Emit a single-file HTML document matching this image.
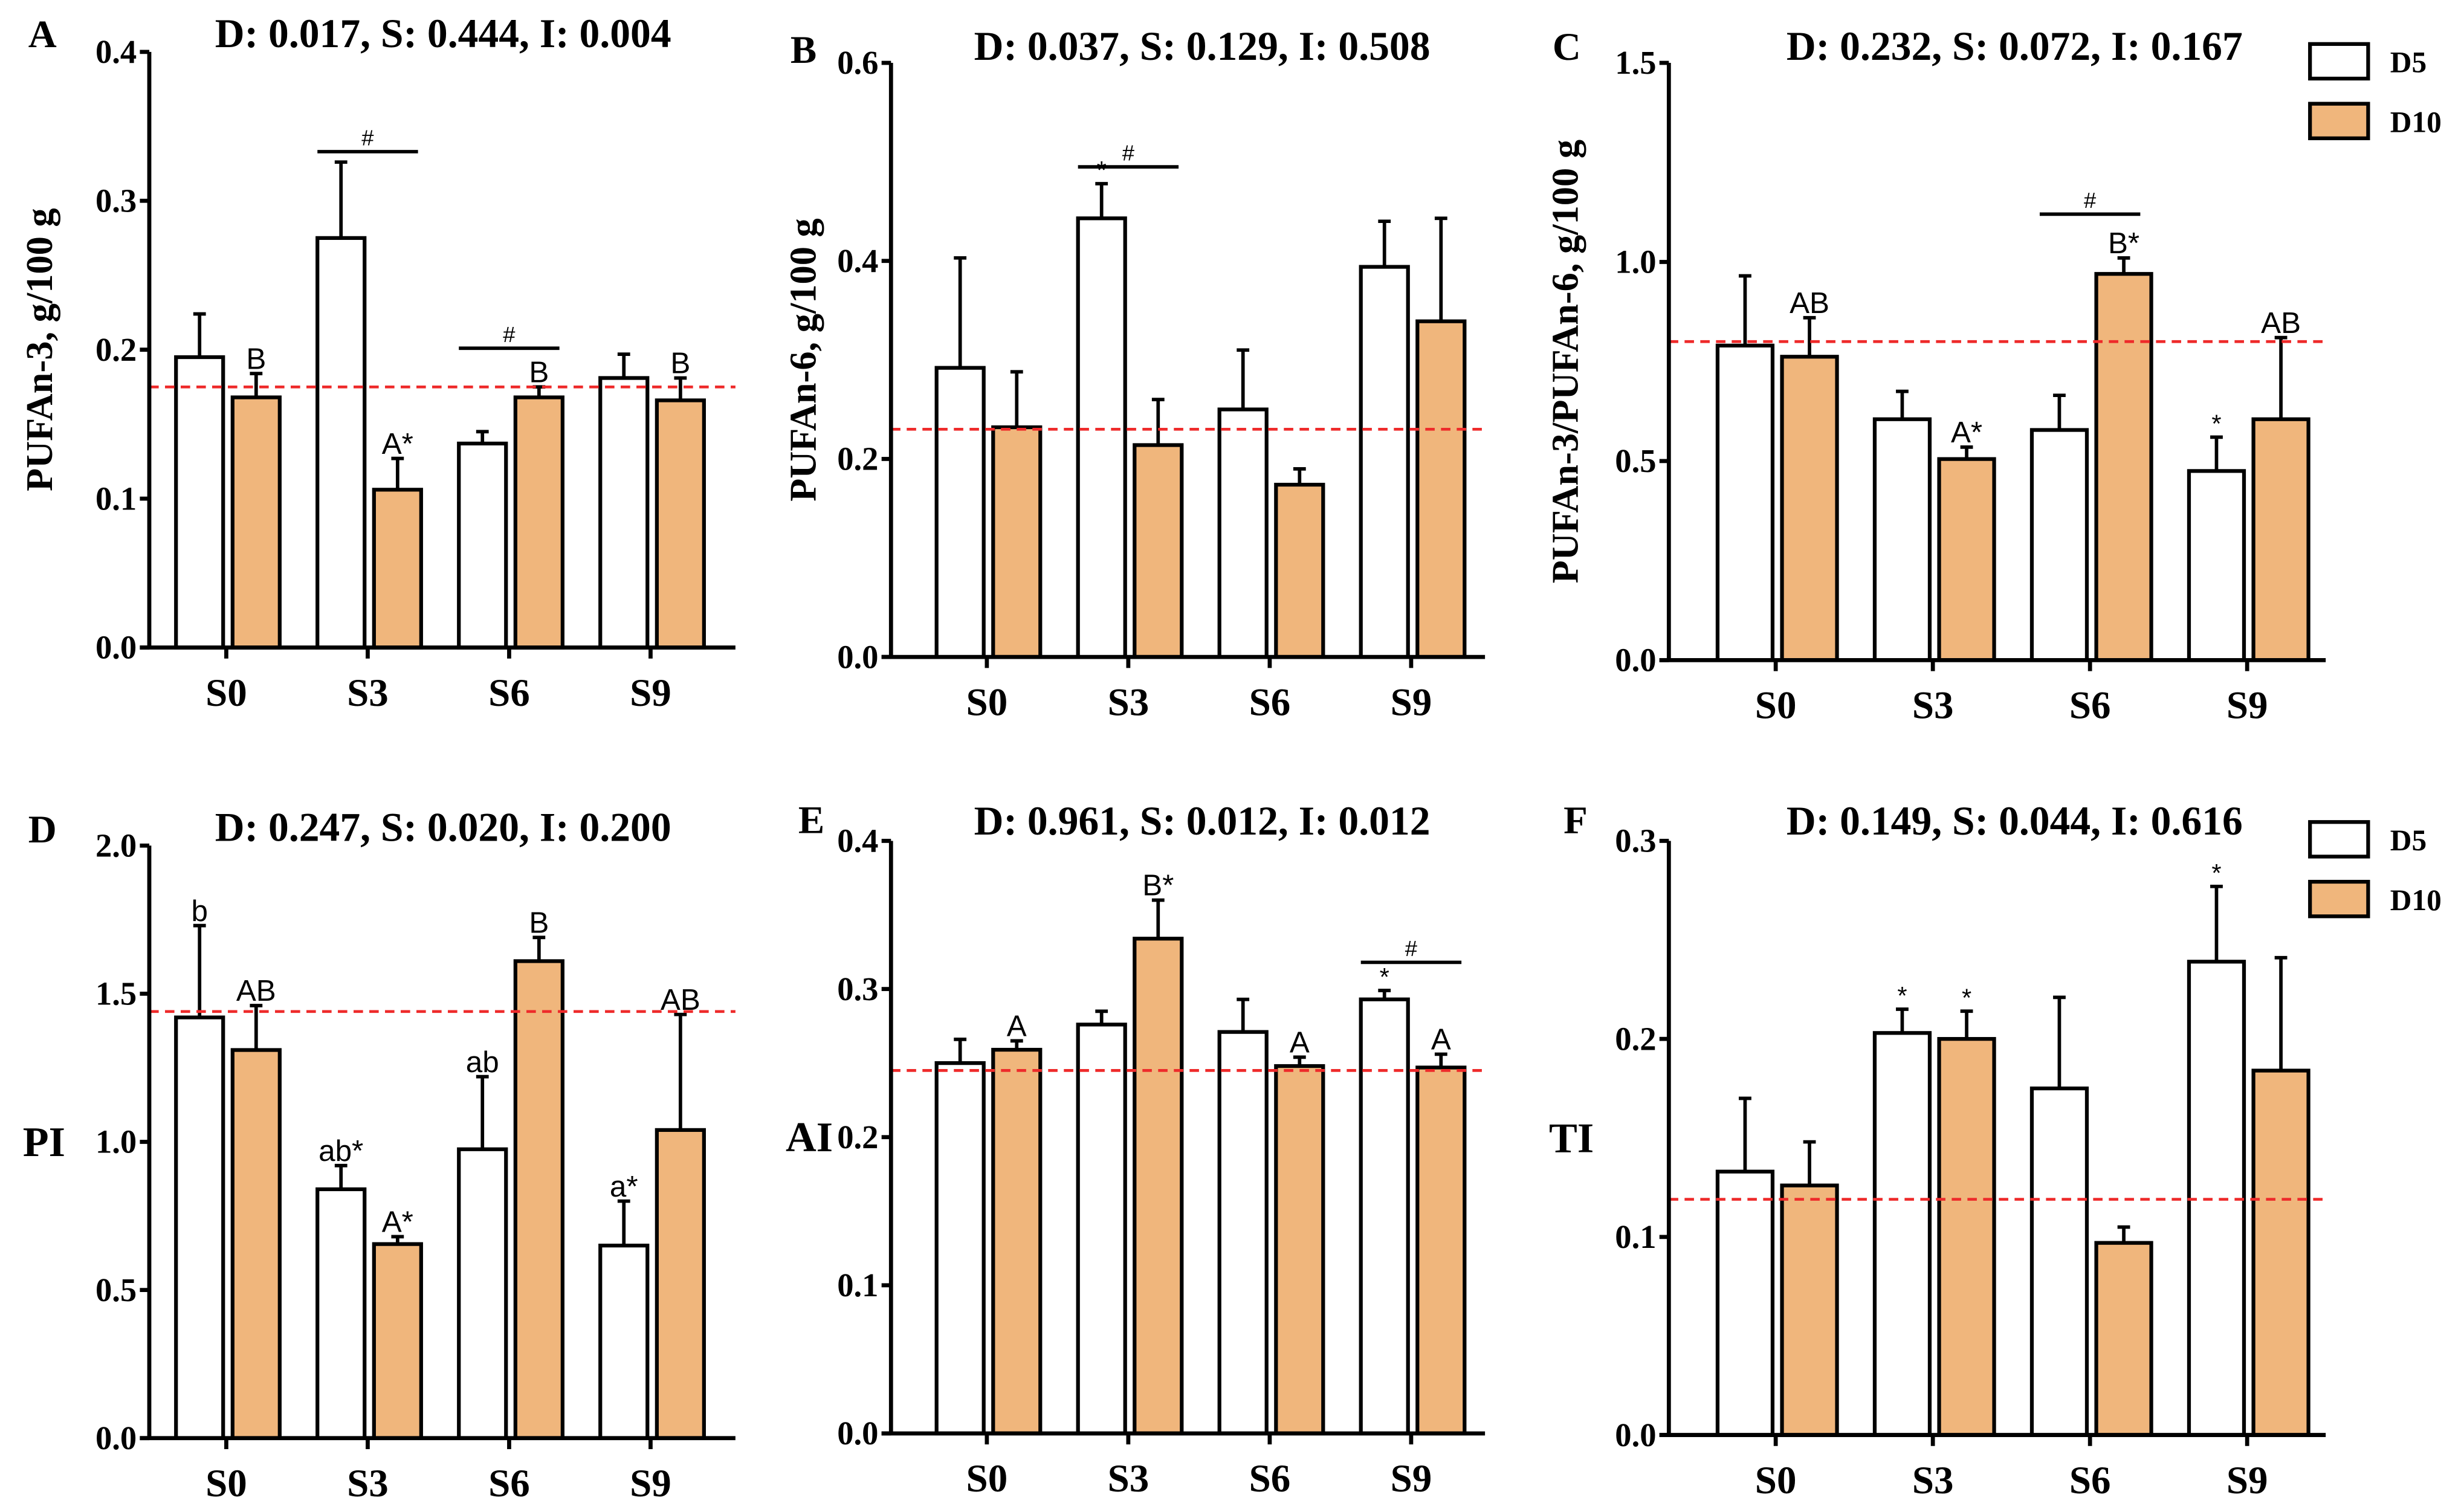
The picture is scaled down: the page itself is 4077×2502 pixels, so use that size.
<!DOCTYPE html>
<html><head><meta charset="utf-8"><style>
html,body{margin:0;padding:0;background:#fff;}
svg{display:block;}
</style></head><body>
<svg id="fig" width="4077" height="2502" viewBox="0 0 1568 962" preserveAspectRatio="none" xmlns="http://www.w3.org/2000/svg" font-family="Liberation Serif, serif"></svg>
<script>
const categories = ["S0","S3","S6","S9"];
const aD5 = [0.195,0.275,0.137,0.181], aD5e = [0.224,0.326,0.145,0.197];
const aD10 = [0.168,0.106,0.168,0.166], aD10e = [0.184,0.127,0.175,0.181];
const bD5 = [0.292,0.443,0.250,0.394], bD5e = [0.403,0.478,0.310,0.440];
const bD10 = [0.232,0.214,0.174,0.339], bD10e = [0.288,0.260,0.190,0.443];
const cD5 = [0.790,0.605,0.578,0.475], cD5e = [0.965,0.675,0.665,0.560];
const cD10 = [0.762,0.505,0.970,0.605], cD10e = [0.860,0.535,1.010,0.810];
const dD5 = [1.42,0.84,0.975,0.65], dD5e = [1.73,0.92,1.22,0.80];
const dD10 = [1.31,0.655,1.61,1.04], dD10e = [1.46,0.68,1.69,1.43];
const eD5 = [0.250,0.276,0.271,0.293], eD5e = [0.266,0.285,0.293,0.299];
const eD10 = [0.259,0.334,0.248,0.247], eD10e = [0.265,0.360,0.254,0.256];
const fD5 = [0.133,0.203,0.175,0.239], fD5e = [0.170,0.215,0.221,0.277];
const fD10 = [0.126,0.200,0.097,0.184], fD10e = [0.148,0.214,0.105,0.241];
const aTicks=["0.0","0.1","0.2","0.3","0.4"], bTicks=["0.0","0.2","0.4","0.6"], cTicks=["0.0","0.5","1.0","1.5"];
const dTicks=["0.0","0.5","1.0","1.5","2.0"], eTicks=["0.0","0.1","0.2","0.3","0.4"], fTicks=["0.0","0.1","0.2","0.3"];

const panels = [
 {id:"a",letter:"A",title:"D: 0.017, S: 0.444, I: 0.004",ylab:"PUFAn-3, g/100 g",ax:95,top:33,bot:412,xend:468,t0:144,sp:90,bw:30,max:0.4,ticks:aTicks,d5:aD5,d5e:aD5e,d10:aD10,d10e:aD10e,ref:0.175,
  lx:18,ly:30,tx:282,ty:30,ylx:33,lab5:["","","",""],lab10:["B","A*","B","B"],hash:[[1,0.333],[2,0.201]],legend:false},
 {id:"b",letter:"B",title:"D: 0.037, S: 0.129, I: 0.508",ylab:"PUFAn-6, g/100 g",ax:567,top:40,bot:418,xend:945,t0:628,sp:90,bw:30,max:0.6,ticks:bTicks,d5:bD5,d5e:bD5e,d10:bD10,d10e:bD10e,ref:0.23,
  lx:503,ly:40,tx:765,ty:38,ylx:519,lab5:["","*","",""],lab10:["","","",""],hash:[[1,0.495]],legend:false},
 {id:"c",letter:"C",title:"D: 0.232, S: 0.072, I: 0.167",ylab:"PUFAn-3/PUFAn-6, g/100 g",ax:1062,top:40,bot:420,xend:1480,t0:1130,sp:100,bw:35,max:1.5,ticks:cTicks,d5:cD5,d5e:cD5e,d10:cD10,d10e:cD10e,ref:0.8,
  lx:988,ly:38,tx:1282,ty:38,ylx:1004,lab5:["","","","*"],lab10:["AB","A*","B*","AB"],hash:[[2,1.12]],legend:true},
 {id:"d",letter:"D",title:"D: 0.247, S: 0.020, I: 0.200",ylab:"PI",ax:95,top:538,bot:915,xend:468,t0:144,sp:90,bw:30,max:2.0,ticks:dTicks,d5:dD5,d5e:dD5e,d10:dD10,d10e:dD10e,ref:1.44,
  lx:18,ly:536,tx:282,ty:535,ylx:36,lab5:["b","ab*","ab","a*"],lab10:["AB","A*","B","AB"],hash:[],legend:false},
 {id:"e",letter:"E",title:"D: 0.961, S: 0.012, I: 0.012",ylab:"AI",ax:567,top:535,bot:912,xend:945,t0:628,sp:90,bw:30,max:0.4,ticks:eTicks,d5:eD5,d5e:eD5e,d10:eD10,d10e:eD10e,ref:0.245,
  lx:508,ly:530,tx:765,ty:531,ylx:523,lab5:["","","","*"],lab10:["A","B*","A","A"],hash:[[3,0.318]],legend:false},
 {id:"f",letter:"F",title:"D: 0.149, S: 0.044, I: 0.616",ylab:"TI",ax:1062,top:535,bot:913,xend:1480,t0:1130,sp:100,bw:35,max:0.3,ticks:fTicks,d5:fD5,d5e:fD5e,d10:fD10,d10e:fD10e,ref:0.119,
  lx:995,ly:530,tx:1282,ty:531,ylx:1008,lab5:["","*","","*"],lab10:["","*","",""],hash:[],legend:true}
];
const NS="http://www.w3.org/2000/svg";
const svg=document.getElementById("fig");
function mk(tag,attrs,parent,txt){const e=document.createElementNS(NS,tag);for(const k in attrs)e.setAttribute(k,attrs[k]);if(txt!==undefined)e.textContent=txt;(parent||svg).appendChild(e);return e;}
panels.forEach(p=>{
  const g=mk("g",{});
  
  
  const y=v=>p.bot-(v/p.max)*(p.bot-p.top);
  const xc=i=>p.t0+i*p.sp;
  let t=mk("text",{x:p.lx,y:p.ly,"font-size":25,"font-weight":"bold"},g,p.letter);
  
  t=mk("text",{x:p.tx,y:p.ty,"font-size":26,"font-weight":"bold","text-anchor":"middle"},g,p.title);
  
  const cy=(p.top+p.bot)/2;
  const longLab=p.ylab.length>3;
  t=mk("text",{x:p.ylx,y:cy,"font-size":longLab?24:27,"font-weight":"bold","text-anchor":"middle",transform:longLab?`rotate(-90 ${p.ylx} ${cy})`:""},g,p.ylab);
  if(!longLab){t.setAttribute("y",cy+9);t.setAttribute("x",p.ylx-8);}
  
  for(let i=0;i<4;i++){
    const c=xc(i);
    const specs=[[p.d5,p.d5e,c-p.bw-2,"#ffffff","d5",p.lab5],[p.d10,p.d10e,c+4,"#f0b67c","d10",p.lab10]];
    specs.forEach(([v,ev,x0,fill,nm,labs])=>{
      const mid=x0+p.bw/2;
      const ln=mk("line",{x1:mid,x2:mid,y1:y(v[i]),y2:y(ev[i]),stroke:"#000","stroke-width":2.2},g);
      
      mk("line",{x1:mid-4,x2:mid+4,y1:y(ev[i]),y2:y(ev[i]),stroke:"#000","stroke-width":2.2},g);
      const r=mk("rect",{x:x0,y:y(v[i]),width:p.bw,height:p.bot-y(v[i]),fill:fill,stroke:"#000","stroke-width":2.4},g);
      
      
      if(labs[i]){
        const big=labs[i]!=="*";
        const lt=mk("text",{x:mid,y:y(ev[i])-3,"font-size":big?19:16,"text-anchor":"middle","font-family":"Liberation Sans, sans-serif"},g,labs[i]);
        
      }
    });
  }
  p.hash.forEach(([i,v])=>{
    const c=xc(i);
    const hl=mk("line",{x1:c-32,x2:c+32,y1:y(v),y2:y(v),stroke:"#000","stroke-width":2.2},g);
    
    mk("text",{x:c,y:y(v)-4,"font-size":14,"text-anchor":"middle","font-family":"Liberation Sans, sans-serif"},g,"#");
  });
  const rl=mk("line",{x1:p.ax,x2:p.xend,y1:y(p.ref),y2:y(p.ref),stroke:"#ee2a2a","stroke-width":1.8,"stroke-dasharray":"6,4"},g);
  
  const ya=mk("line",{x1:p.ax,x2:p.ax,y1:p.top,y2:p.bot,stroke:"#000","stroke-width":2.6},g);
  
  const xa=mk("line",{x1:p.ax-6,x2:p.xend,y1:p.bot,y2:p.bot,stroke:"#000","stroke-width":2.6},g);
  
  p.ticks.forEach(lab=>{
    const v=parseFloat(lab), yy=y(v);
    mk("line",{x1:p.ax-6,x2:p.ax,y1:yy,y2:yy,stroke:"#000","stroke-width":2.6},g);
    const tl=mk("text",{x:p.ax-8,y:yy+7,"font-size":21,"font-weight":"bold","text-anchor":"end"},g,lab);
    
  });
  categories.forEach((cat,i)=>{
    mk("line",{x1:xc(i),x2:xc(i),y1:p.bot,y2:p.bot+7,stroke:"#000","stroke-width":2.6},g);
    const xl=mk("text",{x:xc(i),y:p.bot+37,"font-size":25,"font-weight":"bold","text-anchor":"middle"},g,cat);
    
  });
  if(p.legend){
    const lg=mk("g",{},g);
    
    [["D5","#ffffff",0],["D10","#f0b67c",38]].forEach(([n,f,dy])=>{
      const yy=p.top-12+dy;
      const b=mk("rect",{x:1470,y:yy,width:37,height:22,fill:f,stroke:"#000","stroke-width":2.4},lg);
      
      const lt=mk("text",{x:1521,y:yy+18,"font-size":19,"font-weight":"bold"},lg,n);
      
    });
  }
});
</script>
</body></html>
